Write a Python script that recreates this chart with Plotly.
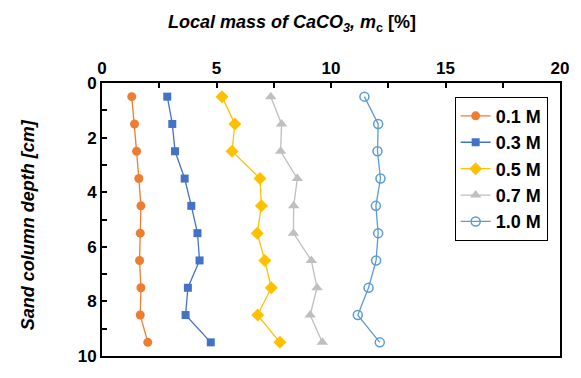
import plotly.graph_objects as go

depth = [0.5, 1.5, 2.5, 3.5, 4.5, 5.5, 6.5, 7.5, 8.5, 9.5]
m_01 = [1.30, 1.42, 1.51, 1.61, 1.70, 1.67, 1.64, 1.70, 1.67, 2.00]
m_03 = [2.85, 3.07, 3.19, 3.61, 3.90, 4.17, 4.26, 3.75, 3.65, 4.75]
m_05 = [5.24, 5.80, 5.68, 6.90, 6.96, 6.78, 7.11, 7.39, 6.80, 7.77]
m_07 = [7.37, 7.84, 7.80, 8.53, 8.37, 8.36, 9.14, 9.39, 9.09, 9.62]
m_10 = [11.46, 12.06, 12.03, 12.16, 11.96, 12.06, 11.97, 11.64, 11.17, 12.13]
series_names = ["0.1 M", "0.3 M", "0.5 M", "0.7 M", "1.0 M"]
x_tick_labels = [0, 5, 10, 15, 20]
y_tick_labels = [0, 2, 4, 6, 8, 10]

FONT = "Liberation Sans, Arial, sans-serif"

styles = [
    dict(color="#ED7D31", symbol="circle", size=9, open=False),
    dict(color="#4472C4", symbol="square", size=8, open=False),
    dict(color="#FFC000", symbol="diamond", size=10, open=False),
    dict(color="#BFBFBF", symbol="triangle-up", size=10, open=False),
    dict(color="#5B9BD5", symbol="circle-open", size=9, open=True),
]

fig = go.Figure()
for name, vals, st in zip(series_names, [m_01, m_03, m_05, m_07, m_10], styles):
    marker = dict(symbol=st["symbol"], size=st["size"], color=st["color"])
    if st["open"]:
        marker["line"] = dict(width=1.5, color=st["color"])
    fig.add_trace(go.Scatter(
        x=vals, y=depth, mode="lines+markers", name=name,
        line=dict(color=st["color"], width=1.3),
        marker=marker,
    ))

fig.update_layout(
    width=573, height=370,
    margin=dict(l=94, r=19, t=75, b=12),
    paper_bgcolor="white", plot_bgcolor="white",
    font=dict(family=FONT, color="black"),
    xaxis=dict(
        side="top", range=[0, 20], tickvals=x_tick_labels,
        ticks="inside", ticklen=5, tickwidth=1.5, tickcolor="black",
        minor=dict(dtick=2.5, tick0=0, ticks="inside", ticklen=5, tickwidth=1.5, tickcolor="black", showgrid=False),
        showline=True, linecolor="black", linewidth=2, mirror=True,
        showgrid=False, zeroline=False,
        tickfont=dict(size=17, family=FONT, color="black", weight="bold"),
    ),
    yaxis=dict(
        range=[10, 0], tickvals=y_tick_labels,
        ticks="inside", ticklen=5, tickwidth=1.5, tickcolor="black",
        minor=dict(dtick=1, tick0=0, ticks="inside", ticklen=5, tickwidth=1.5, tickcolor="black", showgrid=False),
        showline=True, linecolor="black", linewidth=2, mirror=True,
        showgrid=False, zeroline=False,
        tickfont=dict(size=17, family=FONT, color="black", weight="bold"),
    ),
    legend=dict(
        x=0.77, y=0.95, xanchor="left", yanchor="top",
        bgcolor="white", bordercolor="black", borderwidth=1,
        font=dict(size=18, family=FONT, color="black", weight="bold"),
        itemwidth=30, tracegroupgap=0,
    ),
    showlegend=True,
    annotations=[
        dict(text="<b><i>Local mass of CaCO<sub>3</sub>, m</i><sub>c</sub> [%]</b>",
             xref="paper", yref="paper", x=0.415, y=1.219,
             xanchor="center", yanchor="middle", showarrow=False,
             font=dict(size=18, family="Arial", color="black", weight="bold")),
        dict(text="<b><i>Sand column depth [cm]</i></b>",
             xref="paper", yref="paper", x=-0.161, y=0.48, textangle=-90,
             xanchor="center", yanchor="middle", showarrow=False,
             font=dict(size=18, family="Arial", color="black", weight="bold")),
    ],
)

fig.write_html("out.html")
